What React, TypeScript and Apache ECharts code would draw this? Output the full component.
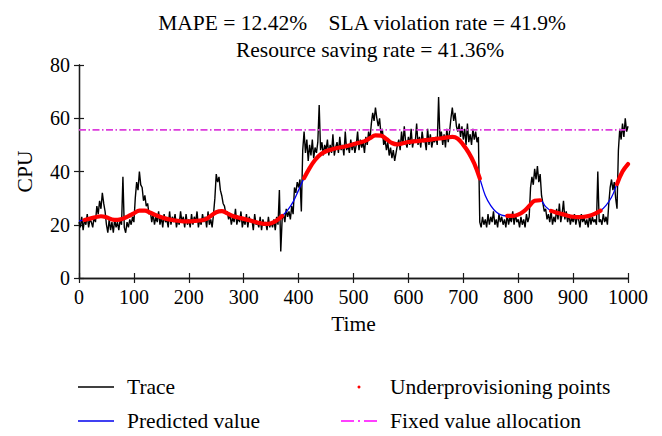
import React, { useEffect, useRef } from "react";
import * as echarts from "echarts";

// ---- data ----
const TITLE_LINE_1 = "MAPE = 12.42%    SLA violation rate = 41.9%";
const TITLE_LINE_2 = "Resource saving rate = 41.36%";
const X_NAME = "Time";
const Y_NAME = "CPU";
const LEGEND_NAMES = ["Trace", "Predicted value", "Underprovisioning points", "Fixed value allocation"];

// trace sampled every 2.5 time units, t = 0..1000 (one row = 50 time units)
const TRACE_STEP = 2.5;
const trace = [
  21, 19, 23, 18, 22, 20, 24, 19, 22, 21, 19, 23, 21, 27, 24, 29, 26, 32, 28, 25,
  20, 17, 22, 18, 21, 17, 22, 19, 21, 18, 22, 20, 38, 19, 17, 21, 19, 22, 20, 23,
  21, 30, 36, 33, 40, 35, 34, 29, 31, 27, 28, 24, 25, 21, 24, 20, 23, 21, 25, 20,
  23, 19, 24, 21, 22, 19, 25, 20, 23, 21, 24, 19, 22, 20, 25, 21, 23, 19, 24, 20,
  22, 19, 24, 20, 23, 21, 25, 19, 22, 20, 24, 21, 23, 19, 25, 20, 22, 19, 24, 30,
  39, 36, 38, 33, 31, 28, 27, 24, 25, 22, 24, 20, 23, 21, 26, 20, 23, 21, 25, 19,
  22, 20, 24, 19, 23, 21, 22, 18, 24, 20, 21, 19, 23, 18, 22, 20, 21, 18, 23, 19,
  21, 19, 22, 18, 23, 20, 33, 10, 22, 24, 21, 26, 23, 25, 22, 27, 24, 34, 32, 36,
  34, 37, 25, 48, 55, 47, 52, 44, 50, 46, 52, 45, 49, 47, 51, 65, 48, 51, 46, 50,
  48, 52, 46, 50, 47, 54, 46, 49, 51, 47, 53, 48, 50, 46, 55, 48, 50, 47, 52, 48,
  51, 47, 50, 55, 48, 52, 49, 51, 47, 53, 50, 55, 52, 58, 62, 59, 64, 60, 57, 60,
  54, 56, 50, 52, 48, 51, 46, 49, 45, 48, 44, 47, 50, 52, 48, 55, 50, 57, 51, 49,
  53, 50, 56, 49, 52, 51, 58, 50, 53, 49, 55, 51, 52, 48, 56, 50, 54, 49, 52, 51,
  53, 50, 68, 52, 55, 50, 54, 49, 56, 51, 55, 60, 64, 59, 62, 57, 55, 58, 53, 57,
  52, 56, 50, 58, 51, 54, 50, 56, 52, 55, 51, 53, 21, 19, 23, 20, 22, 19, 24, 20,
  23, 21, 25, 20, 22, 19, 24, 21, 23, 20, 22, 19, 24, 20, 23, 21, 25, 20, 24, 21,
  22, 19, 23, 20, 22, 19, 24, 21, 23, 34, 38, 35, 41, 37, 42, 36, 39, 31, 28, 25,
  26, 22, 24, 21, 25, 20, 23, 21, 26, 22, 28, 21, 24, 29, 22, 25, 21, 24, 20, 23,
  21, 24, 20, 23, 22, 19, 24, 21, 23, 20, 22, 19, 24, 20, 23, 21, 22, 20, 40, 21,
  22, 20, 24, 21, 23, 20, 28, 34, 37, 33, 36, 30, 26, 48, 56, 52, 58, 53, 60, 55,
  57,
];

// predicted value sampled every 10 time units, t = 0..1000
const PRED_STEP = 10;
const predicted = [
  21.5, 21.8, 22.3, 22.8, 23.2, 22.8, 22.0, 21.8, 22.3, 23.2,
  24.3, 25.3, 25.3, 24.5, 23.6, 22.8, 22.2, 21.8, 21.5, 21.3,
  21.3, 21.4, 21.6, 22.0, 23.3, 24.7, 25.1, 24.3, 23.3, 22.7,
  22.2, 21.7, 21.1, 20.6, 20.3, 20.6, 21.6, 23.3, 25.5, 28.6,
  33.0, 37.5, 41.3, 44.3, 46.4, 47.6, 48.3, 48.8, 49.2, 49.7,
  50.2, 50.8, 51.4, 52.5, 53.6, 53.5, 52.2, 50.7, 50.2, 50.6,
  51.1, 51.3, 51.5, 51.8, 52.0, 52.3, 52.5, 52.8, 53.0, 52.3,
  50.0, 47.0, 43.0, 37.4, 31.0, 27.2, 24.8, 23.6, 23.3, 23.3,
  23.8, 25.0, 27.0, 29.0, 29.2, 26.8, 25.2, 24.5, 24.0, 23.4,
  23.0, 22.9, 23.0, 23.4, 24.2, 25.3, 27.3, 30.3, 35.3, 40.0,
  42.8,
];

// time ranges where the prediction is below the trace (underprovisioning)
const underRanges = [
  [10, 370],
  [410, 570],
  [580, 730],
  [780, 840],
  [860, 950],
  [980, 1000],
];

const FIXED_ALLOCATION = 55.6;

const X_MIN = 0, X_MAX = 1000, X_INTERVAL = 100;
const Y_MIN = 0, Y_MAX = 80, Y_INTERVAL = 20;

const FONT = "Liberation Serif";

export default function App() {
  const ref = useRef<HTMLDivElement>(null);

  useEffect(() => {
    if (!ref.current) return;
    const chart = echarts.init(ref.current, null, { renderer: "svg" });

    const traceData = trace.map((v, i) => [i * TRACE_STEP, v]);
    const predData = predicted.map((v, i) => [i * PRED_STEP, v]);
    const underData = predicted.map((v, i) => {
      const t = i * PRED_STEP;
      const inside = underRanges.some(([a, b]) => t >= a && t <= b);
      return inside ? [t, v] : [t, null];
    });

    const axisLine = { show: true, lineStyle: { color: "#1a1a1a", width: 1.3 } };
    const tick = { show: true, inside: true, length: 5, lineStyle: { color: "#1a1a1a", width: 1.2 } };
    const label = { color: "#000", fontFamily: FONT, fontSize: 20, formatter: (v: number) => String(v) };

    const textFont = `21.5px "${FONT}"`;

    chart.setOption({
      animation: false,
      backgroundColor: "#fff",
      textStyle: { fontFamily: FONT },
      grid: { left: 79, right: 34, top: 65, bottom: 158 },
      xAxis: [
        {
          type: "value", min: X_MIN, max: X_MAX, interval: X_INTERVAL, position: "bottom",
          axisLine, axisTick: tick, splitLine: { show: false },
          axisLabel: { ...label, margin: 9 },
          name: X_NAME, nameLocation: "middle", nameGap: 35,
          nameTextStyle: { color: "#000", fontFamily: FONT, fontSize: 21.5 },
        },
        {
          type: "value", min: X_MIN, max: X_MAX, interval: X_INTERVAL, position: "top",
          axisLine, axisTick: tick, splitLine: { show: false }, axisLabel: { show: false },
        },
      ],
      yAxis: [
        {
          type: "value", min: Y_MIN, max: Y_MAX, interval: Y_INTERVAL, position: "left",
          axisLine, axisTick: tick, splitLine: { show: false },
          axisLabel: { ...label, margin: 9 },
          name: Y_NAME, nameLocation: "middle", nameGap: 43,
          nameTextStyle: { color: "#000", fontFamily: FONT, fontSize: 21.5 },
        },
        {
          type: "value", min: Y_MIN, max: Y_MAX, interval: Y_INTERVAL, position: "right",
          axisLine, axisTick: tick, splitLine: { show: false }, axisLabel: { show: false },
        },
      ],
      series: [
        {
          name: LEGEND_NAMES[0], type: "line", data: traceData, showSymbol: false,
          lineStyle: { color: "#000", width: 1.4 }, itemStyle: { color: "#000" }, z: 2,
        },
        {
          name: LEGEND_NAMES[1], type: "line", data: predData, showSymbol: false, smooth: 0.4,
          lineStyle: { color: "#0000ee", width: 1.3 }, itemStyle: { color: "#0000ee" }, z: 3,
        },
        {
          name: LEGEND_NAMES[2], type: "line", data: underData, showSymbol: false, smooth: 0.4,
          connectNulls: false,
          lineStyle: { color: "#ff0000", width: 4.2, cap: "round" }, itemStyle: { color: "#ff0000" }, z: 4,
        },
        {
          name: LEGEND_NAMES[3], type: "line",
          data: [[X_MIN, FIXED_ALLOCATION], [X_MAX, FIXED_ALLOCATION]], showSymbol: false,
          lineStyle: { color: "#dc3cdc", width: 1.7, type: [7, 2.5, 1.5, 2.5] },
          itemStyle: { color: "#dc3cdc" }, z: 5,
        },
      ],
      graphic: [
        { type: "text", x: 362, y: 22.5, style: { text: TITLE_LINE_1, font: textFont, fill: "#000", align: "center", verticalAlign: "middle" } },
        { type: "text", x: 370, y: 49.5, style: { text: TITLE_LINE_2, font: textFont, fill: "#000", align: "center", verticalAlign: "middle" } },
        { type: "line", shape: { x1: 78, y1: 387, x2: 114, y2: 387 }, style: { stroke: "#000", lineWidth: 1.3 } },
        { type: "text", x: 127, y: 387, style: { text: LEGEND_NAMES[0], font: textFont, fill: "#000", verticalAlign: "middle" } },
        { type: "line", shape: { x1: 78, y1: 421, x2: 114, y2: 421 }, style: { stroke: "#0000ee", lineWidth: 1.3 } },
        { type: "text", x: 127, y: 421, style: { text: LEGEND_NAMES[1], font: textFont, fill: "#000", verticalAlign: "middle" } },
        { type: "circle", shape: { cx: 359, cy: 387, r: 1.5 }, style: { fill: "#ff0000" } },
        { type: "text", x: 390, y: 387, style: { text: LEGEND_NAMES[2], font: textFont, fill: "#000", verticalAlign: "middle" } },
        { type: "line", shape: { x1: 341, y1: 421, x2: 377, y2: 421 }, style: { stroke: "#ff00ff", lineWidth: 1.3, lineDash: [13, 4, 2, 4] } },
        { type: "text", x: 390, y: 421, style: { text: LEGEND_NAMES[3], font: textFont, fill: "#000", verticalAlign: "middle" } },
      ],
    });

    return () => chart.dispose();
  }, []);

  return <div ref={ref} style={{ width: 662, height: 436, position: "absolute", left: 0, top: 0 }} />;
}
